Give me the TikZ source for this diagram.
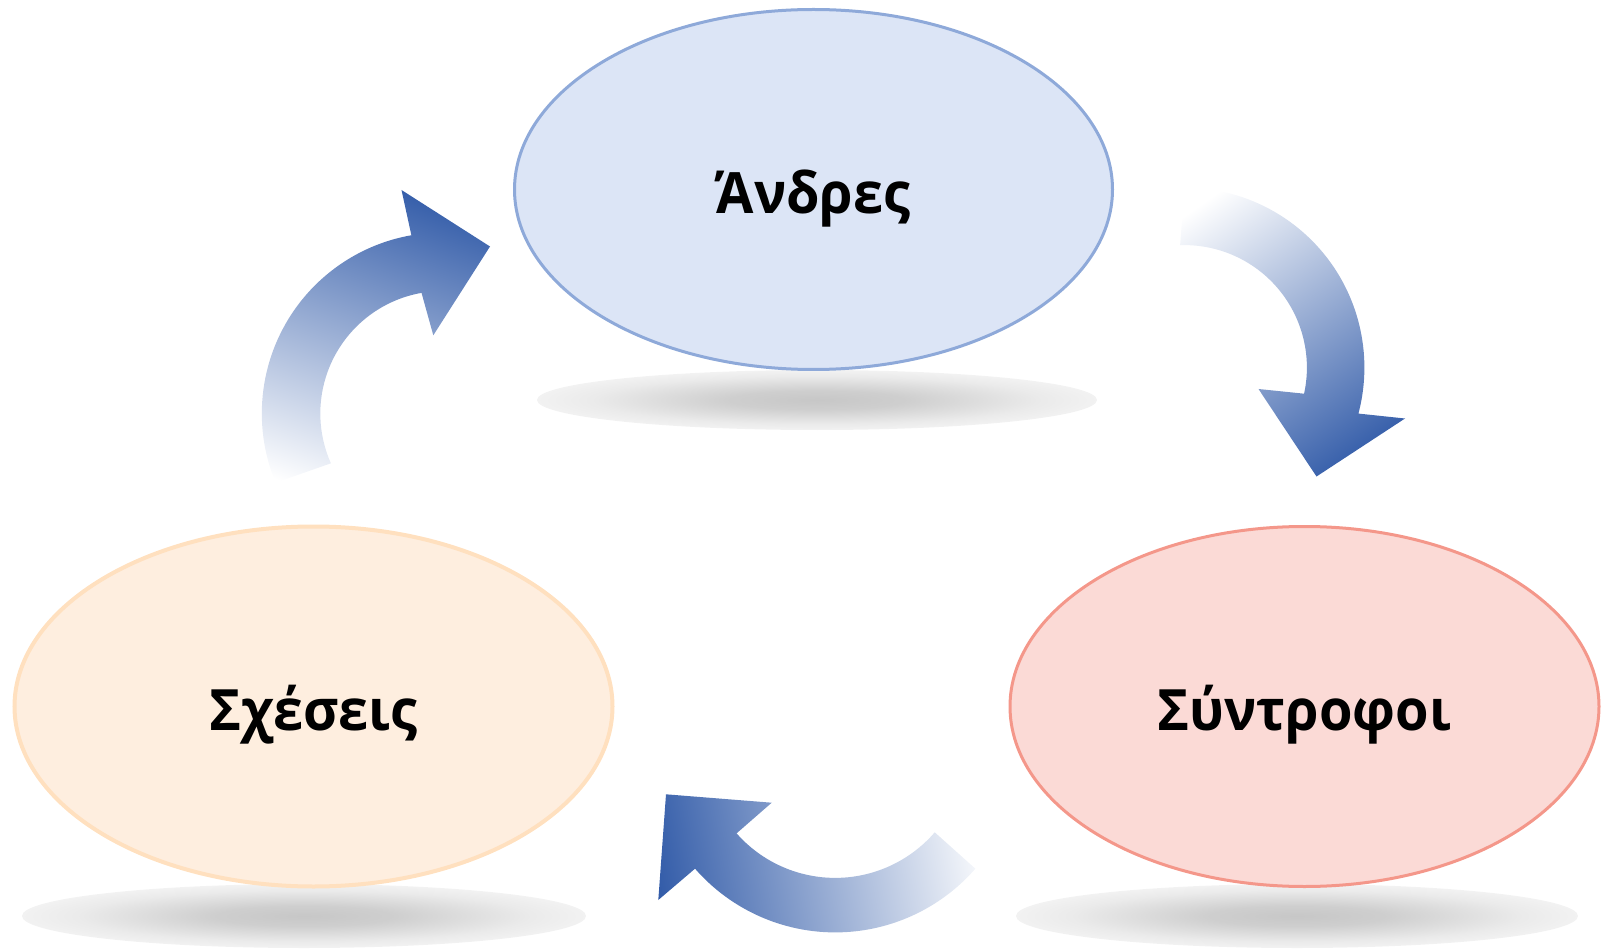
\documentclass[tikz,border=0pt]{standalone}
\usepackage{fontspec}
\setmainfont{Open Sans}
\newfontfamily\labelfont{Open Sans}[FakeStretch=0.95]
\usetikzlibrary{shapes.geometric,calc}
\definecolor{arrowblue}{HTML}{2A55A5}
\definecolor{topfill}{HTML}{DCE5F6}
\definecolor{topline}{HTML}{8EA9D9}
\definecolor{leftfill}{HTML}{FEEEDF}
\definecolor{leftline}{HTML}{FFE0BF}
\definecolor{rightfill}{HTML}{FBDAD6}
\definecolor{rightline}{HTML}{F4978A}
\pgfdeclareradialshading{shadowfade}{\pgfpoint{0bp}{0bp}}{color(0bp)=(black!22); color(8bp)=(black!19); color(20bp)=(black!8); color(34bp)=(white); color(50bp)=(white)}
\pgfdeclareverticalshading{arrowfade}{100bp}{color(0bp)=(white); color(20bp)=(white); color(80bp)=(arrowblue); color(100bp)=(arrowblue)}
\tikzset{
  bubble/.style={ellipse, minimum width=598pt, minimum height=360pt, inner sep=0pt,
    text height=48pt, text depth=0pt, font=\labelfont\fontsize{57}{68}\selectfont\bfseries},
  shadowblob/.style={shading=shadowfade},
  cyclearrow/.style={shading=arrowfade},
}
\begin{document}
\begin{tikzpicture}[x=1pt,y=1pt,yscale=-1]
\useasboundingbox (0,0) rectangle (1601,949);
% shadows
\shade[shadowblob] (817,400) ellipse [x radius=280, y radius=30];
\shade[shadowblob] (304,916) ellipse [x radius=282, y radius=32];
\shade[shadowblob] (1297,916) ellipse [x radius=281, y radius=32];
% ellipses
\node[bubble, draw=topline, fill=topfill, line width=3pt] (andres) at (813.5,189.5) {Άνδρες};
\node[bubble, draw=leftline, fill=leftfill, line width=4pt] (scheseis) at (313.5,706.5) {Σχέσεις};
\node[bubble, draw=rightline, fill=rightfill, line width=3pt, minimum width=589pt] (syntrofoi) at (1304.5,706.5) {Σύντροφοι};
% arrows
\coordinate (c1) at (442.8,413.5);
\coordinate (c2) at (1184.4,367.6);
\coordinate (c3) at (835.2,746.4);
\shade[cyclearrow, shading angle=-20] ($(c1)+(157.5:181)$) arc[start angle=157.5, end angle=260, radius=181]
  -- (401.5,190) -- (490,246.5) -- (433.3,335.3) -- ($(c1)+(260:122.5)$)
  arc[start angle=260, end angle=156, radius=122.5] -- cycle;
\shade[cyclearrow, shading angle=-145] ($(c2)+(-90:180)$) arc[start angle=-90, end angle=14.8, radius=180]
  -- (1405,418.5) -- (1316.5,476.5) -- (1258.5,389) -- ($(c2)+(12.3:122.5)$)
  arc[start angle=12.3, end angle=-92, radius=122.5] -- cycle;
\shade[cyclearrow, shading angle=100] ($(c3)+(41.1:186)$) arc[start angle=41.1, end angle=138.9, radius=186]
  -- (658.3,900) -- (666,794.3) -- (771.7,802.7) -- ($(c3)+(138.6:131.5)$)
  arc[start angle=138.6, end angle=40.8, radius=131.5] -- cycle;
\end{tikzpicture}
\end{document}
